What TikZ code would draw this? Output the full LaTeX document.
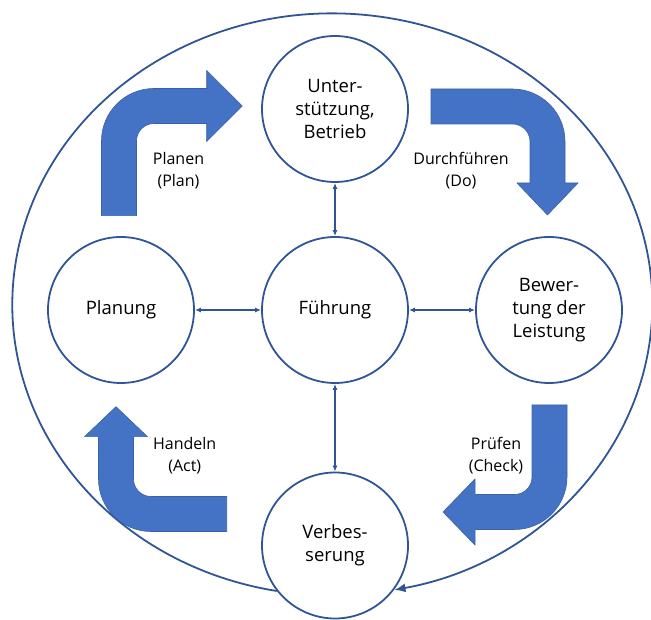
\documentclass[tikz,border=0pt]{standalone}
\usepackage{fontspec}
\setmainfont{Open Sans}
\usetikzlibrary{arrows.meta}
\definecolor{ringblue}{HTML}{2F5597}
\definecolor{shapeblue}{HTML}{4472C4}

% half width of a bent arrow shaft and the radius of its bend (centre line)
\def\hw{17.5}
\def\rc{35}
% bent block arrow: tail centre (#1,#2), rotation #3, tail-to-bend length #4,
% bend-to-tip length #5, head half width #6, head length #7
\newcommand{\bentarrow}[7]{%
  \filldraw[blockarrow, shift={(#1,#2)}, rotate=#3]
    (-\hw,0) -- (-\hw,#4-\rc)
    arc[start angle=180, end angle=90, radius=52.5pt]
    -- (#5-#7,#4+\hw) -- (#5-#7,#4+#6) -- (#5,#4) -- (#5-#7,#4-#6)
    -- (#5-#7,#4-\hw) -- (\rc,#4-\hw)
    arc[start angle=90, end angle=180, radius=17.5pt]
    -- (\hw,0) -- cycle;}

\begin{document}
\begin{tikzpicture}[x=1pt, y=1pt,
  stage/.style={circle, draw=ringblue, line width=1.8pt, fill=white,
    minimum size=146pt, inner sep=0pt, align=center,
    font=\fontsize{18.5}{23}\selectfont},
  phase/.style={align=center, inner sep=0pt,
    font=\fontsize{16}{22}\selectfont},
  link/.style={draw=ringblue, line width=1.4pt,
    {Latex[length=6pt,width=5pt]}-{Latex[length=6pt,width=5pt]}},
  cycleloop/.style={draw=ringblue, line width=1.8pt,
    -{Latex[length=11pt,width=9pt]}},
  blockarrow/.style={fill=shapeblue, draw=shapeblue!85!black, line width=0.6pt}
]
\useasboundingbox (0,0) rectangle (651,619);

% the five management areas
\node[stage] (F) at (335,309)   {Führung};
\node[stage] (U) at (335,510)   {Unter-\\stützung,\\Betrieb};
\node[stage] (P) at (121,309)   {Planung};
\node[stage] (B) at (549,309)   {Bewer-\\tung der\\Leistung};
\node[stage] (V) at (335,73.5)  {Verbes-\\serung};

% leadership is linked to every area
\draw[link] (F) -- (U);
\draw[link] (F) -- (P);
\draw[link] (F) -- (B);
\draw[link] (F) -- (V);

% outer cycle, leaving and re-entering the improvement step
\draw[cycleloop] (V.218.8)
  arc[start angle=260, end angle=-78.8, x radius=320, y radius=291];

% PDCA block arrows
\bentarrow{119}{403.3}{0}{109.7}{123.3}{35.5}{35.6}
\bentarrow{431}{512.5}{-90}{116.5}{108.5}{30.5}{32}
\bentarrow{549.5}{214}{180}{107}{106.5}{33}{32}
\bentarrow{226.7}{105}{90}{110.7}{107.3}{31.5}{30}

% phase labels
\node[phase] (lplan)  at (178.5,448) {Planen\\(Plan)};
\node[phase] (ldo)    at (461,448)   {Durchführen\\(Do)};
\node[phase] (lcheck) at (496,163)   {Prüfen\\(Check)};
\node[phase] (lact)   at (184.7,163) {Handeln\\(Act)};
\end{tikzpicture}
\end{document}
